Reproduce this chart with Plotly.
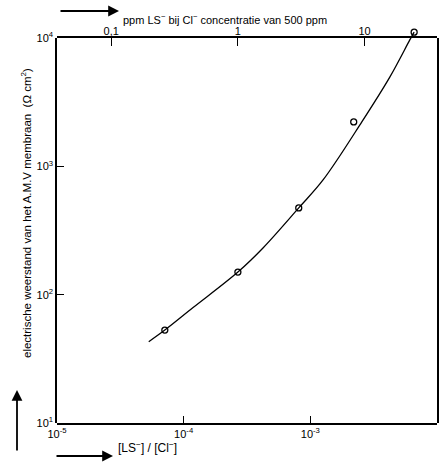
import math
import plotly.graph_objects as go

# measured points: ratio [LS-]/[Cl-] vs resistance (ohm cm^2)
point_ratio = [7.1e-5, 2.68e-4, 8.1e-4, 2.2e-3, 6.6e-3]
point_resistance = [53, 150, 474, 2220, 11100]

# fitted curve
curve_ratio = [5.3e-5, 7.1e-5, 1.18e-4, 2.68e-4, 4.23e-4, 8.1e-4, 1.26e-3, 2.55e-3, 4.25e-3, 6.1e-3, 6.6e-3]
curve_resistance = [43, 53, 79, 150, 231, 474, 783, 2220, 4980, 9660, 11100]

# top axis: ppm LS- at 500 ppm Cl-; 1 ppm corresponds to this ratio
ratio_per_ppm = 2.68e-4
ppm_ticks = [0.1, 1, 10]
ppm_ticktext = ["0,1", "1", "10"]

x_ticks = [1e-5, 1e-4, 1e-3, 1e-2]
x_ticktext = ["10<sup>-5</sup>", "10<sup>-4</sup>", "10<sup>-3</sup>", "10<sup>-2</sup>"]
y_ticks = [1e1, 1e2, 1e3, 1e4]
y_ticktext = ["10<sup>1</sup>", "10<sup>2</sup>", "10<sup>3</sup>", "10<sup>4</sup>"]

FONT = "Liberation Sans"
W, H = 442, 462
L, R, T, B = 57, 5, 26, 39
BOX_TOP = 38                      # pixel row of the framed box top (10^4)
pw, ph = W - L - R, H - T - B     # full drawing area (incl. headroom for data)
box_h = H - B - BOX_TOP
decade_px = box_h / 3.0
y_top_extra = (BOX_TOP - T) / decade_px

def px(x):
    return (x - L) / pw

def py(y):
    return (H - B - y) / ph

fig = go.Figure()
fig.add_trace(go.Scatter(
    x=curve_ratio, y=curve_resistance, mode="lines", yaxis="y2",
    line=dict(color="black", width=1.3, shape="spline", smoothing=1.0),
    hoverinfo="skip", showlegend=False))
fig.add_trace(go.Scatter(
    x=point_ratio, y=point_resistance, mode="markers", yaxis="y2",
    marker=dict(symbol="circle-open", size=6, color="black", line=dict(width=1.3)),
    cliponaxis=False, showlegend=False))
fig.add_trace(go.Scatter(
    x=[r / ratio_per_ppm for r in point_ratio], y=point_resistance,
    mode="markers", marker=dict(opacity=0), xaxis="x2",
    hoverinfo="skip", showlegend=False))

lo = math.log10(1e-5 / ratio_per_ppm)
hi = math.log10(1e-2 / ratio_per_ppm)
box_frac = box_h / ph

fig.update_layout(
    width=W, height=H,
    margin=dict(l=L, r=R, t=T, b=B, autoexpand=False),
    paper_bgcolor="white", plot_bgcolor="rgba(0,0,0,0)",
    font=dict(family=FONT, color="black", size=11),
    xaxis=dict(type="log", range=[-5, -2], tickvals=x_ticks, ticktext=x_ticktext,
               ticks="inside", ticklen=7, tickwidth=1, tickcolor="black",
               showline=True, linecolor="black", linewidth=1.5, mirror=True,
               showgrid=False, zeroline=False, tickfont=dict(size=11),
               automargin=False, anchor="y"),
    xaxis2=dict(type="log", range=[lo, hi], overlaying="x", side="top", anchor="y",
                tickvals=ppm_ticks, ticktext=ppm_ticktext,
                ticks="inside", ticklen=8, tickwidth=1.2, tickcolor="black",
                showline=False, showgrid=False, zeroline=False,
                tickfont=dict(size=11), automargin=False),
    yaxis=dict(type="log", range=[1, 4], domain=[0, box_frac],
               tickvals=y_ticks, ticktext=y_ticktext,
               ticks="inside", ticklen=7, tickwidth=1, tickcolor="black",
               showline=True, linecolor="black", linewidth=1.5, mirror=True,
               showgrid=False, zeroline=False, tickfont=dict(size=11),
               automargin=False),
    yaxis2=dict(type="log", range=[1, 4 + y_top_extra], domain=[0, 1],
                anchor="x", visible=False, showgrid=False, zeroline=False),
)

# y-axis title with upward arrow
fig.add_annotation(
    xref="paper", yref="paper", x=px(17), y=py(213),
    text="electrische weerstand van het A.M.V membraan  (\u03a9 cm<sup>2</sup>)",
    textangle=-90, showarrow=False, font=dict(size=11.5, family=FONT))
fig.add_annotation(
    xref="paper", yref="paper", x=px(17), y=py(390), ax=0, ay=62,
    text="", showarrow=True, arrowhead=2, arrowsize=1.2, arrowwidth=1.8,
    arrowcolor="black")

# x-axis title with right arrow
fig.add_annotation(
    xref="paper", yref="paper", x=px(117), y=py(456), xanchor="left",
    text="[LS<sup>\u2212</sup>] / [Cl<sup>\u2212</sup>]", borderpad=0,
    showarrow=False, font=dict(size=12, family=FONT))
fig.add_annotation(
    xref="paper", yref="paper", x=px(113), y=py(456), ax=-58, ay=0,
    text="", showarrow=True, arrowhead=2, arrowsize=1.2, arrowwidth=1.8,
    arrowcolor="black")

# top axis title with right arrow
fig.add_annotation(
    xref="paper", yref="paper", x=px(122), y=py(11), xanchor="left",
    text="ppm LS<sup>\u2212</sup> bij Cl<sup>\u2212</sup> concentratie van 500 ppm",
    borderpad=0, showarrow=False, font=dict(size=11, family=FONT))
fig.add_annotation(
    xref="paper", yref="paper", x=px(119), y=py(11), ax=-60, ay=0,
    text="", showarrow=True, arrowhead=2, arrowsize=1.2, arrowwidth=1.8,
    arrowcolor="black")

fig.write_html("out.html")
